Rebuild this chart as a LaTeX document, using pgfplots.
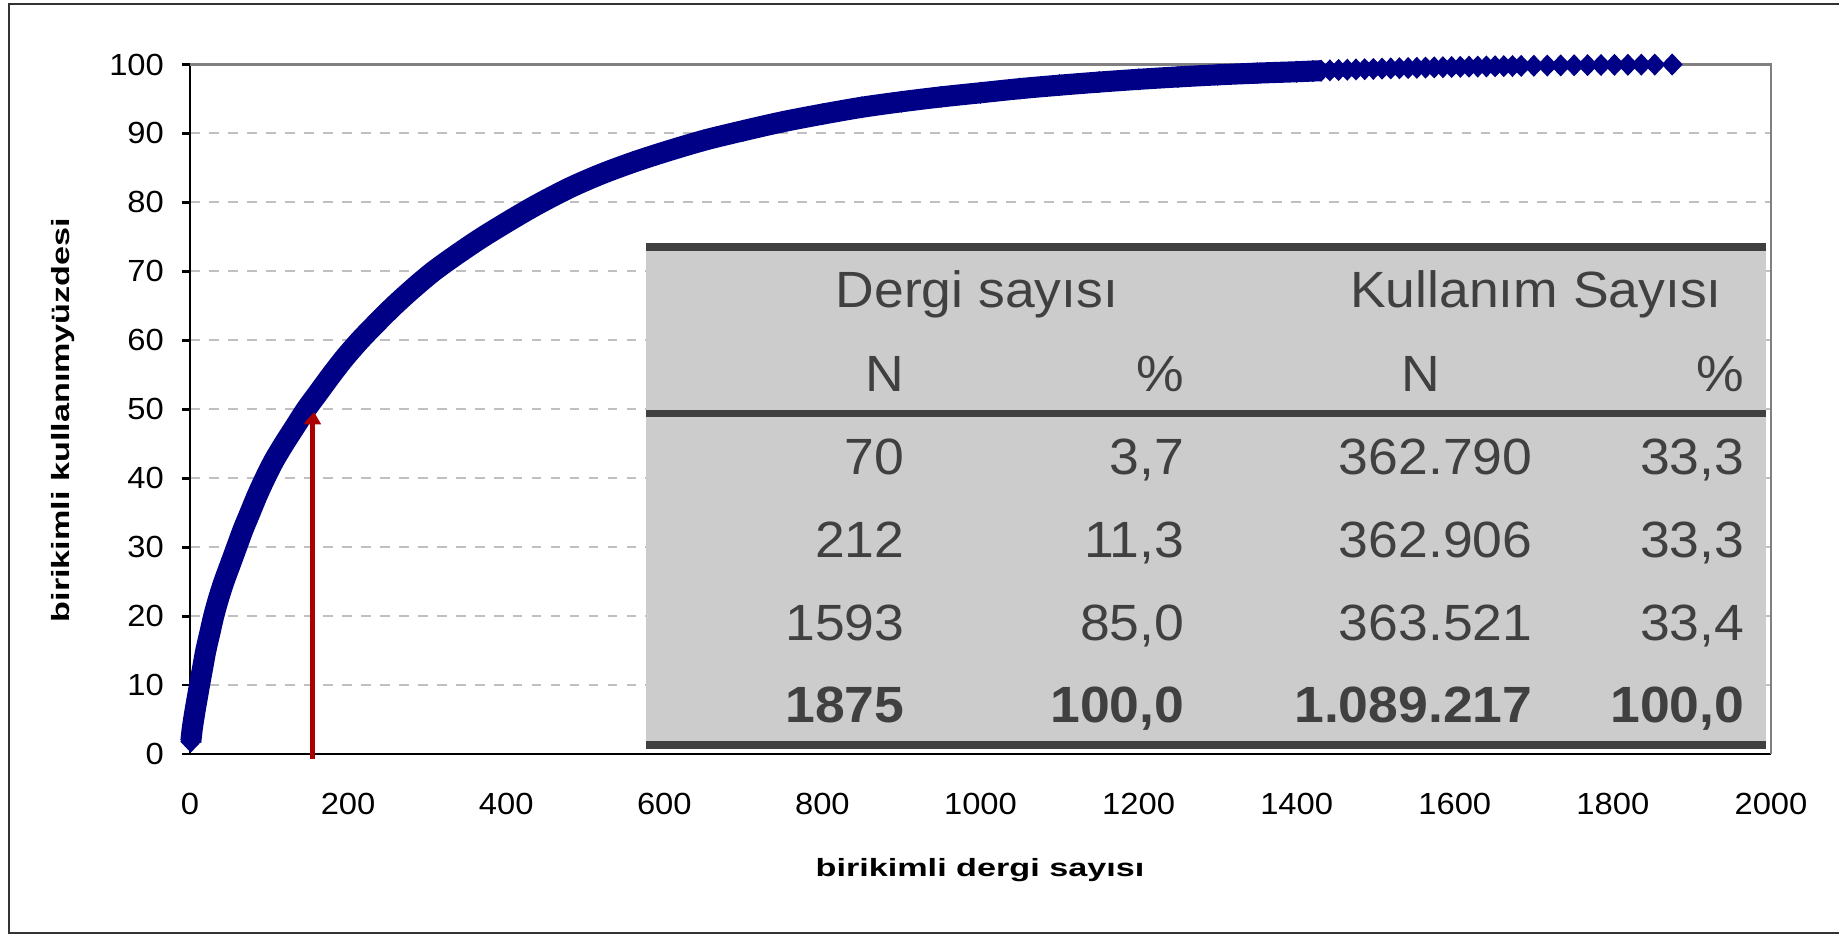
\documentclass[border=0pt]{standalone}
\usepackage{fontspec}
\setmainfont{Liberation Sans}
\usepackage{pgfplots}
\usepackage{pgfplotstable}
\pgfplotsset{compat=1.18}
\usetikzlibrary{arrows.meta}

\newfontfamily\tickfont[FakeStretch=1.07]{Liberation Sans}
\newfontfamily\labfont[FakeStretch=1.37]{Liberation Sans}
\newfontfamily\tabfont[FakeStretch=1.05]{Liberation Sans}

\definecolor{navy}{RGB}{0,0,135}
\definecolor{arrowred}{RGB}{170,0,0}
\definecolor{tabgray}{RGB}{204,204,204}
\definecolor{tabdark}{RGB}{64,64,64}
\definecolor{gridgray}{RGB}{192,192,192}
\definecolor{boxgray}{RGB}{128,128,128}

% birikimli dergi sayisi / birikimli kullanim yuzdesi
\pgfplotstableread{
x y
1 1.8
2 2.8
3 3.8
5 5.3
7 6.7
9 8.0
12 10.0
16 12.5
20 15.0
25 17.5
30 20.0
36 22.5
43 25.0
51 27.5
59 30.0
67 32.5
76 35.0
85 37.5
95 40.0
106 42.5
119 45.0
133 47.5
147 50.0
163 52.5
179 55.0
196 57.5
215 60.0
236 62.5
258 65.0
282 67.5
308 70.0
337 72.4
368 74.8
402 77.2
438 79.6
480 82.1
520 84.1
560 85.8
600 87.3
650 89.0
700 90.4
750 91.7
800 92.8
850 93.8
900 94.6
950 95.3
1000 95.9
1050 96.5
1100 97.0
1150 97.45
1200 97.85
1250 98.2
1300 98.5
1350 98.75
1400 98.95
1420 99.05
1431 99.1
1442 99.15
1453 99.2
1464 99.24
1475 99.28
1486 99.32
1497 99.36
1508 99.4
1519 99.43
1530 99.46
1541 99.49
1552 99.52
1563 99.55
1574 99.58
1585 99.61
1596 99.63
1607 99.66
1618 99.68
1629 99.7
1640 99.72
1651 99.74
1662 99.76
1673 99.78
1684 99.8
1700 99.82
1717 99.85
1734 99.87
1751 99.89
1768 99.91
1785 99.93
1802 99.95
1819 99.96
1836 99.98
1853 99.99
1875 100
}\curvedata

\begin{document}
\begin{tikzpicture}
\begin{scope}[x=0.1mm,y=0.1mm]
\path[use as bounding box] (0,0) rectangle (1839,937);
\draw[line width=0.6pt,black!80] (1839,933) -- (9,933) -- (9,4) -- (1839,4);
\end{scope}

\begin{axis}[
    at={(19mm,18.3mm)}, anchor=south west,
    scale only axis,
    width=158.1mm, height=68.95mm,
    xmin=0, xmax=2000, ymin=0, ymax=100,
    xtick={0,200,...,2000},
    ytick={0,10,...,100},
    axis lines=left,
    axis line style={-, line width=0.8pt, black},
    tick align=outside,
    major tick length=2.3pt,
    xtick style={draw=none},
    ytick style={black, line width=0.8pt},
    ymajorgrids,
    grid style={gridgray, line width=0.55pt, dash pattern=on 2.8pt off 2.6pt},
    clip=false,
    ticklabel style={font=\tickfont\fontsize{8.7}{10}\selectfont},
    /pgf/number format/1000 sep={},
    /pgf/number format/assume math mode=true,
    xticklabel style={yshift=-5.3pt},
    yticklabel style={xshift=-1.6pt},
]
\draw[boxgray, line width=0.8pt] (rel axis cs:0,1) -- (rel axis cs:1,1) -- (rel axis cs:1,0);
\addplot[navy, line width=6.0pt, smooth, line join=round, restrict x to domain=0:1440, forget plot] table[x=x,y=y] {\curvedata};
\addplot[only marks, mark=diamond*, mark size=2.85pt, mark options={navy, xscale=1.27}] table[x=x,y=y] {\curvedata};
\addplot[arrowred, line width=1.2pt, -{Triangle[width=4.6pt,length=4.3pt]}] coordinates {(155,-0.7) (155,50)};
\end{axis}

\begin{scope}[x=0.1mm,y=0.1mm]
% tablo
\fill[tabgray] (646,192) rectangle (1766,690);
\draw[tabdark, line width=2pt] (646,690) -- (1766,690);
\draw[tabdark, line width=2pt] (646,523.5) -- (1766,523.5);
\draw[tabdark, line width=2pt] (646,192) -- (1766,192);
\begin{scope}[every node/.style={inner sep=0pt, text=tabdark, font=\tabfont\fontsize{14.5}{17}\selectfont}]
\node[anchor=base] at (977,629) {Dergi sayısı};
\node[anchor=base] at (1536,629) {Kullanım Sayısı};
\node[anchor=base east] at (905,545) {N};
\node[anchor=base east] at (1185,545) {\%};
\node[anchor=base east] at (1441,545) {N};
\node[anchor=base east] at (1745,545) {\%};
\node[anchor=base east] at (905,462) {70};
\node[anchor=base east] at (1185,462) {3,7};
\node[anchor=base east] at (1533,462) {362.790};
\node[anchor=base east] at (1745,462) {33,3};
\node[anchor=base east] at (905,379) {212};
\node[anchor=base east] at (1185,379) {11,3};
\node[anchor=base east] at (1533,379) {362.906};
\node[anchor=base east] at (1745,379) {33,3};
\node[anchor=base east] at (905,296) {1593};
\node[anchor=base east] at (1185,296) {85,0};
\node[anchor=base east] at (1533,296) {363.521};
\node[anchor=base east] at (1745,296) {33,4};
\node[anchor=base east] at (905,214) {\bfseries 1875};
\node[anchor=base east] at (1185,214) {\bfseries 100,0};
\node[anchor=base east] at (1533,214) {\bfseries 1.089.217};
\node[anchor=base east] at (1745,214) {\bfseries 100,0};
\end{scope}

% eksen etiketleri
\node[font=\labfont\bfseries\fontsize{7.1}{8}\selectfont] at (980,67) {birikimli dergi sayısı};
\node[rotate=90, font=\labfont\bfseries\fontsize{7.1}{8}\selectfont] at (63,517) {birikimli kullanımyüzdesi};
\end{scope}
\end{tikzpicture}
\end{document}
